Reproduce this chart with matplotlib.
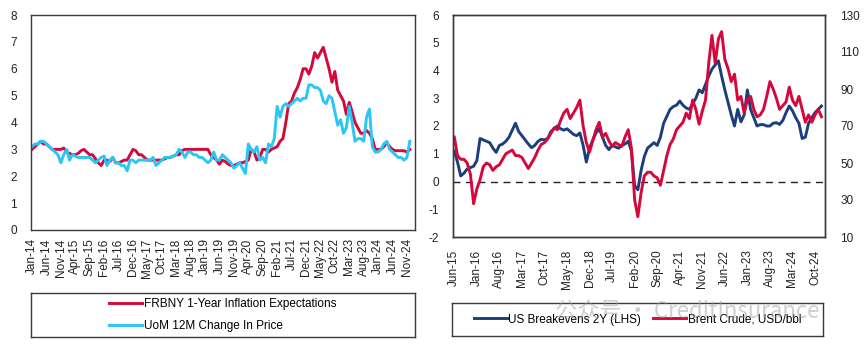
import numpy as np
import pandas as pd
from matplotlib import pyplot as plt

plt.rcParams['font.family'] = ['Liberation Sans', 'DejaVu Sans']
plt.rcParams['axes.unicode_minus'] = False

RED = '#D20A3A'
CYAN = '#2BC6F5'
NAVY = '#1B3F7C'
CRIMSON = '#D6073C'

# ---- left panel: monthly, Jan-14 .. Dec-24
frbny_1y = [
    3.0, 3.1, 3.2, 3.3, 3.2, 3.2, 3.1, 3.0, 3.0, 3.0, 3.0, 3.05,
    2.9, 2.85, 2.8, 2.8, 2.85, 2.95, 3.0, 2.9, 2.8, 2.8, 2.65, 2.5,
    2.4, 2.6, 2.6, 2.55, 2.7, 2.5, 2.5, 2.55, 2.6, 2.6, 2.8, 3.0,
    2.95, 2.8, 2.8, 2.7, 2.6, 2.6, 2.6, 2.6, 2.6, 2.6, 2.65, 2.7,
    2.7, 2.75, 2.8, 2.8, 2.95, 3.0, 3.0, 3.0, 3.0, 3.0, 3.0, 3.0,
    3.0, 3.0, 2.8, 2.7, 2.6, 2.45, 2.6, 2.55, 2.45, 2.4, 2.4, 2.45,
    2.5, 2.5, 2.55, 2.6, 3.0, 2.9, 2.6, 2.7, 3.0, 3.0, 2.9, 3.0,
    3.05, 3.1, 3.3, 3.4, 4.0, 4.7, 4.8, 5.1, 5.3, 5.6, 6.0, 6.0,
    5.8, 6.1, 6.6, 6.4, 6.6, 6.8, 6.4, 6.0, 5.5, 5.9, 5.2, 5.0,
    4.8, 4.3, 4.75, 4.4, 4.0, 3.8, 3.6, 3.6, 3.7, 3.6, 3.4, 3.0,
    3.0, 3.0, 3.1, 3.25, 3.1, 3.0, 2.95, 2.95, 2.95, 2.95, 2.9, 3.0,
]
uom_12m = [
    3.1, 3.2, 3.2, 3.3, 3.3, 3.2, 3.1, 3.0, 2.9, 2.8, 2.5, 2.8,
    3.0, 2.6, 2.8, 2.75, 2.7, 2.7, 2.7, 2.7, 2.7, 2.6, 2.5, 2.6,
    2.7, 2.75, 2.4, 2.6, 2.7, 2.5, 2.5, 2.4, 2.4, 2.2, 2.6, 2.6,
    2.5, 2.6, 2.6, 2.6, 2.6, 2.6, 2.7, 2.4, 2.5, 2.6, 2.7, 2.7,
    2.7, 2.75, 2.8, 3.0, 2.9, 2.7, 2.9, 2.9, 2.8, 2.8, 2.7, 2.7,
    2.6, 2.5, 2.6, 2.9, 2.6, 2.6, 2.8, 2.7, 2.6, 2.5, 2.3, 2.4,
    2.5, 2.3, 2.1, 3.2, 3.0, 2.9, 3.1, 2.6, 2.7, 2.5, 3.2, 3.1,
    3.4, 4.6, 4.2, 4.6, 4.7, 4.6, 4.7, 4.8, 4.9, 4.8, 4.9, 4.9,
    5.4, 5.4, 5.3, 5.3, 5.2, 4.8, 4.7, 5.0, 4.9, 4.4, 3.9, 4.1,
    3.6, 3.8, 4.6, 4.0, 3.3, 3.4, 3.4, 3.3, 4.2, 4.5, 3.1, 2.9,
    2.9, 3.0, 3.2, 3.3, 3.0, 2.9, 2.8, 2.7, 2.7, 2.6, 2.7, 3.3,
]
left_start = '2014-01-01'

# ---- right panel: monthly, Jun-15 .. Dec-24
breakevens_2y = [
    1.1, 0.7, 0.2, 0.3, 0.45, 0.5, 0.55, 0.75, 1.55, 1.5, 1.45, 1.4,
    1.2, 1.05, 1.3, 1.35, 1.45, 1.6, 1.85, 2.1, 1.8, 1.65, 1.5, 1.35,
    1.22, 1.3, 1.45, 1.52, 1.5, 1.55, 1.8, 1.9, 2.0, 1.9, 1.85, 1.9,
    1.8, 1.7, 1.65, 1.75, 1.3, 0.7, 1.2, 1.5, 1.75, 1.9, 1.6, 1.3,
    1.15, 1.3, 1.25, 1.2, 1.3, 1.35, 1.45, 1.1, -0.15, -0.3, 0.4, 0.9,
    1.2, 1.3, 1.4, 1.3, 1.6, 2.1, 2.35, 2.6, 2.7, 2.75, 2.9, 2.75,
    2.65, 2.6, 2.8, 3.0, 3.3, 3.2, 3.5, 3.8, 4.05, 4.2, 4.35, 3.8,
    3.3, 2.85, 2.4, 2.0, 2.6, 2.15, 2.4, 3.3, 2.6, 2.3, 2.0, 2.05,
    2.05, 2.0, 2.0, 2.1, 2.12, 2.06, 2.2, 2.48, 2.72, 2.55, 2.3, 2.1,
    1.55, 1.6, 2.1, 2.3, 2.48, 2.6, 2.72,
]
brent_usd = [
    64, 54, 52, 52, 50, 44, 28, 36, 41, 48, 50, 49,
    46, 48, 49, 52, 55, 56, 57, 54, 54, 53, 50, 47,
    50, 53, 57, 60, 61, 63, 66, 69, 68, 73, 77, 79,
    74, 77, 80, 84, 70, 61, 56, 62, 68, 72, 64, 66,
    62, 59, 61, 60, 59, 64, 68, 58, 30, 21, 34, 43,
    45, 45, 43, 42, 38, 46, 54, 60, 63, 68, 70, 72,
    77, 74, 84, 79, 71, 78, 84, 104, 119, 104, 117, 121,
    106, 101, 94, 98, 84, 86, 77, 84, 86, 79, 75, 76,
    79, 86, 94, 90, 85, 79, 81, 83, 91, 84, 81, 86,
    79, 72, 76, 72, 76, 79, 75,
]
right_start = '2015-06-01'

fig = plt.figure(figsize=(8.65, 3.46), dpi=100)

def style_box(ax):
    for s in ax.spines.values():
        s.set_color('#3a3a3a')
        s.set_linewidth(1.0)

# left chart
ax1 = fig.add_axes([31/865, 116/346, 384/865, 215/346])
x1 = np.arange(len(frbny_1y))
lbl1 = pd.date_range(left_start, periods=len(frbny_1y), freq='MS').strftime('%b-%y')
ax1.plot(x1, frbny_1y, color=RED, lw=2.1, label='FRBNY 1-Year Inflation Expectations')
ax1.plot(x1, uom_12m, color=CYAN, lw=2.1, label='UoM 12M Change In Price')
ax1.set_ylim(0, 8)
ax1.set_xlim(-0.35, 132.8)
ax1.set_yticks(range(0, 9))
ax1.set_xticks(x1[::5])
ax1.set_xticklabels(lbl1[::5], rotation=90)
ax1.tick_params(length=0, labelsize=8.5, colors='#222222')
ax1.tick_params(axis='y', pad=10)
ax1.tick_params(axis='x', pad=6)
style_box(ax1)

# right chart
ax2 = fig.add_axes([453/865, 109/346, 372/865, 222/346])
ax3 = ax2.twinx()
x2 = np.arange(len(breakevens_2y))
lbl2 = pd.date_range(right_start, periods=len(breakevens_2y), freq='MS').strftime('%b-%y')
ax2.axhline(0, color='#222222', lw=1.0, ls=(0, (5, 4)), zorder=1)
ax2.plot(x2, breakevens_2y, color=NAVY, lw=2.1, zorder=2, label='US Breakevens 2Y (LHS)')
ax3.plot(x2, brent_usd, color=CRIMSON, lw=2.1, label='Brent Crude, USD/bbl')
ax2.set_ylim(-2, 6)
ax3.set_ylim(10, 130)
ax2.set_xlim(-0.4, 115.1)
ax2.set_yticks(range(-2, 7))
ax3.set_yticks(range(10, 131, 20))
ax2.set_xticks(x2[::7])
ax2.set_xticklabels(lbl2[::7], rotation=90)
ax2.tick_params(length=0, labelsize=8.5, colors='#222222')
ax2.tick_params(axis='y', pad=10)
ax2.tick_params(axis='x', pad=9)
ax3.tick_params(length=0, labelsize=8.5, colors='#222222', pad=11)
style_box(ax2)
style_box(ax3)

# legend boxes
lg1 = fig.add_axes([31/865, 9/346, 384/865, 44/346])
lg1.set_xticks([])
lg1.set_yticks([])
style_box(lg1)
h1, l1 = ax1.get_legend_handles_labels()
lg1.legend(h1, l1, loc='center', frameon=False, fontsize=8.5,
           handlelength=2.8, handletextpad=0.15, labelspacing=0.9)

lg2 = fig.add_axes([452/865, 10/346, 371/865, 33/346])
lg2.set_xticks([])
lg2.set_yticks([])
style_box(lg2)
h2, l2 = ax2.get_legend_handles_labels()
h3, l3 = ax3.get_legend_handles_labels()
lg2.legend(h2 + h3, l2 + l3, loc='center', ncol=2, frameon=False, fontsize=8.5,
           handlelength=2.8, handletextpad=0.15, columnspacing=1.0)

# watermark
fig.text(555/865, 1 - 311/346, '公众号 · CreditInsurance', fontsize=16,
         family=['Noto Sans CJK SC', 'DejaVu Sans'], color='#a0a0a0', alpha=0.5,
         va='center', ha='left', zorder=10)

fig.savefig('out.png', dpi=100)
